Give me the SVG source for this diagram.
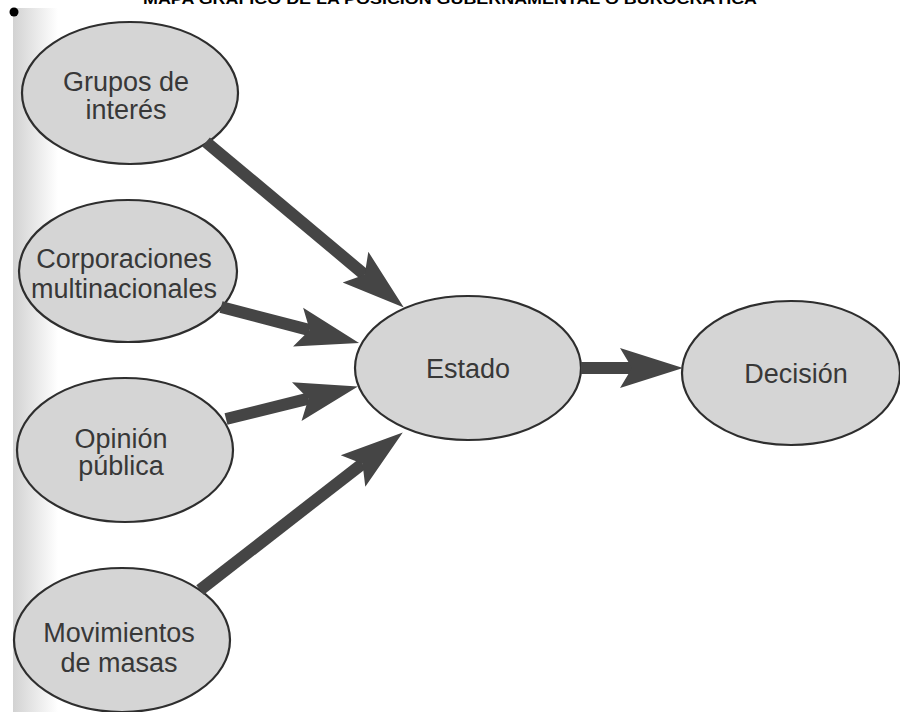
<svg xmlns="http://www.w3.org/2000/svg" width="900" height="712" viewBox="0 0 900 712">
<defs>
<linearGradient id="edge" x1="0" y1="0" x2="1" y2="0">
<stop offset="0" stop-color="#d2d2d2"/>
<stop offset="1" stop-color="#ffffff"/>
</linearGradient>
<marker id="ah" markerUnits="userSpaceOnUse" markerWidth="64" markerHeight="42" viewBox="0 0 64 42" refX="12" refY="21" orient="auto">
<path d="M0,1 L63,21 L0,41 L12,21 Z" fill="#454545"/>
</marker>
<style>
.node ellipse{fill:#d5d5d5;stroke:#2e2e2e;stroke-width:2.2}
.node text{font-family:"Liberation Sans",Arial,sans-serif;font-size:27px;fill:#383838;text-anchor:middle}
.conn line{stroke:#454545;stroke-width:12;marker-end:url(#ah)}
</style>
</defs>
<rect width="900" height="712" fill="#ffffff"/>
<rect x="13" y="8" width="45" height="704" fill="url(#edge)"/>
<text x="450" y="4" font-family="Liberation Sans,Arial,sans-serif" font-weight="bold" font-size="14" text-anchor="middle" textLength="614" lengthAdjust="spacingAndGlyphs" fill="#000">MAPA GRÁFICO DE LA POSICIÓN GUBERNAMENTAL O BUROCRÁTICA</text>
<circle cx="14" cy="12" r="4.5" fill="#000"/>
<g id="n-grupos" class="node">
<ellipse cx="130" cy="93" rx="108" ry="71"/>
<text x="126" y="91">Grupos de</text>
<text x="126" y="119">interés</text>
</g>
<g id="n-corporaciones" class="node">
<ellipse cx="128" cy="271" rx="109" ry="71"/>
<text x="124" y="268">Corporaciones</text>
<text x="124" y="298">multinacionales</text>
</g>
<g id="n-opinion" class="node">
<ellipse cx="125" cy="450" rx="108" ry="72"/>
<text x="121" y="448">Opinión</text>
<text x="121" y="475">pública</text>
</g>
<g id="n-movimientos" class="node">
<ellipse cx="122" cy="640" rx="108" ry="72"/>
<text x="119" y="642">Movimientos</text>
<text x="119" y="672">de masas</text>
</g>
<g id="n-estado" class="node">
<ellipse cx="468" cy="368" rx="113" ry="72"/>
<text x="468" y="378">Estado</text>
</g>
<g id="n-decision" class="node">
<ellipse cx="791" cy="373" rx="109" ry="72"/>
<text x="796" y="383">Decisión</text>
</g>
<g id="connectors" class="conn">
<line x1="206" y1="142" x2="364.7" y2="274.8"/>
<line x1="221" y1="307" x2="309.7" y2="330.1"/>
<line x1="226" y1="419" x2="308.4" y2="398.7"/>
<line x1="200" y1="590" x2="362.5" y2="463.7"/>
<line x1="581" y1="368" x2="632" y2="368"/>
</g>
</svg>
